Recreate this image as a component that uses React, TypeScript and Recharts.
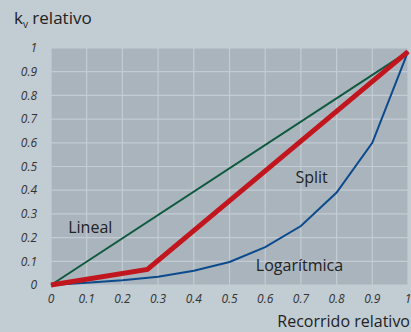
import React from 'react';
import { LineChart, Line, XAxis, YAxis, CartesianGrid, ReferenceDot } from 'recharts';

const ticks = [0, 0.1, 0.2, 0.3, 0.4, 0.5, 0.6, 0.7, 0.8, 0.9, 1];
const linealData = [
  { x: 0, y: 0 },
  { x: 1, y: 0.985 },
];
const splitData = [
  { x: 0, y: 0 },
  { x: 0.27, y: 0.066 },
  { x: 1, y: 0.985 },
];
const logData = [
  { x: 0, y: 0 },
  { x: 0.1, y: 0.01 },
  { x: 0.2, y: 0.02 },
  { x: 0.3, y: 0.035 },
  { x: 0.4, y: 0.06 },
  { x: 0.5, y: 0.097 },
  { x: 0.6, y: 0.16 },
  { x: 0.7, y: 0.249 },
  { x: 0.8, y: 0.39 },
  { x: 0.9, y: 0.6 },
  { x: 1, y: 0.985 },
];
const annotations = [
  { x: 0.11, y: 0.245, text: 'Lineal' },
  { x: 0.73, y: 0.456, text: 'Split' },
  { x: 0.696, y: 0.084, text: 'Logarítmica' },
];

const FONT = '"Open Sans", "Noto Sans", sans-serif';
const fmt = (v: number) => String(Math.round(v * 10) / 10);

export default function App() {
  return (
    <div style={{ position: 'absolute', left: 0, top: 0, width: 411, height: 332, background: '#c1ccd3', fontFamily: FONT }}>
      <div style={{ position: 'absolute', left: 14, top: 6, fontSize: 17, color: '#222' }}>
        k<sub style={{ fontSize: 10 }}>v</sub> relativo
      </div>
      <div style={{ position: 'absolute', right: 1, top: 310, fontSize: 16, color: '#222' }}>Recorrido relativo</div>
      <LineChart width={411} height={332} margin={{ top: 48, right: 3, bottom: 0, left: 0 }}>
        <CartesianGrid fill="#aab4bc" stroke="#c3ccd3" strokeWidth={1.2} horizontalValues={ticks} verticalValues={ticks} />
        <XAxis
          dataKey="x"
          type="number"
          domain={[0, 1]}
          ticks={ticks}
          tickFormatter={fmt}
          axisLine={false}
          tickLine={false}
          tickMargin={3}
          height={47}
          allowDuplicatedCategory={false}
          tick={{ fill: '#333', fontSize: 12, fontStyle: 'italic', fontFamily: FONT }}
        />
        <YAxis
          dataKey="y"
          type="number"
          domain={[0, 1]}
          ticks={ticks}
          tickFormatter={fmt}
          axisLine={false}
          tickLine={false}
          tickMargin={8}
          width={51}
          tick={{ fill: '#333', fontSize: 12, fontStyle: 'italic', fontFamily: FONT }}
        />
        <Line data={linealData} dataKey="y" stroke="#0e5a3f" strokeWidth={2} dot={false} isAnimationActive={false} />
        <Line data={logData} dataKey="y" stroke="#0b4a8c" strokeWidth={2} dot={false} isAnimationActive={false} />
        <Line data={splitData} dataKey="y" stroke="#c2161f" strokeWidth={5} dot={false} isAnimationActive={false} />
        {annotations.map((a) => (
          <ReferenceDot
            key={a.text}
            x={a.x}
            y={a.y}
            r={0}
            fill="none"
            stroke="none"
            label={{ value: a.text, position: 'center', fill: '#222', fontSize: 16, fontFamily: FONT }}
          />
        ))}
      </LineChart>
    </div>
  );
}
